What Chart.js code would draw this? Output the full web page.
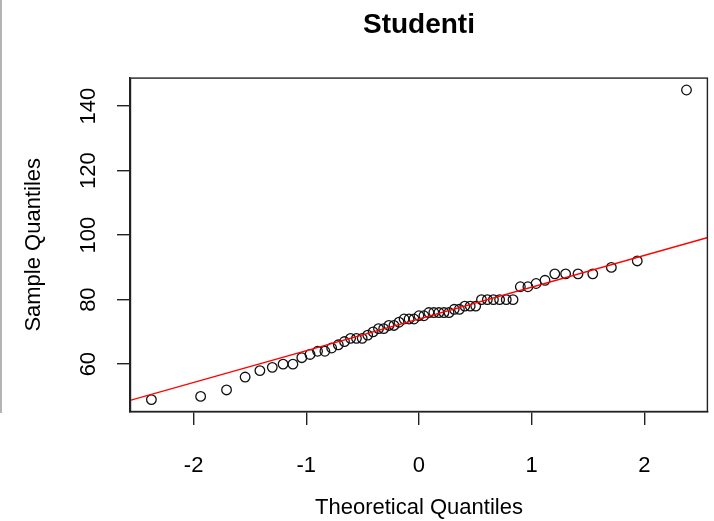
<!DOCTYPE html>
<html>
<head>
<meta charset="utf-8">
<title>Studenti</title>
<script src="https://cdn.jsdelivr.net/npm/chart.js@4"></script>
<style>
  html, body { margin: 0; padding: 0; background: #fff; }
  #wrap { position: relative; width: 714px; height: 521px; }
  #edge { position: absolute; left: 0; top: 0; width: 2px; height: 413px; background: #b4b4b4; }
</style>
</head>
<body>
<div id="wrap">
  <canvas id="qqChart" width="714" height="521"></canvas>
  <div id="edge"></div>
</div>
<script>
// theoretical quantiles (x) and sorted sample values (y)
const theoretical = [
  -2.375, -1.938, -1.708, -1.543, -1.412, -1.302, -1.206, -1.119, -1.040, -0.967,
  -0.900, -0.835, -0.775, -0.716, -0.661, -0.607, -0.555, -0.504, -0.455, -0.407,
  -0.359, -0.313, -0.267, -0.222, -0.177, -0.132, -0.088, -0.044, 0, 0.044,
  0.088, 0.132, 0.177, 0.222, 0.267, 0.313, 0.359, 0.407, 0.455, 0.504,
  0.555, 0.607, 0.661, 0.716, 0.775, 0.835, 0.900, 0.967, 1.040, 1.119,
  1.206, 1.302, 1.412, 1.543, 1.708, 1.938, 2.375
];
const sample = [
  49, 50, 52, 56, 58, 59, 60, 60, 62, 63,
  64, 64, 65, 66, 67, 68, 68, 68, 69, 70,
  71, 71, 72, 72, 73, 74, 74, 74, 75, 75,
  76, 76, 76, 76, 76, 77, 77, 78, 78, 78,
  80, 80, 80, 80, 80, 80, 84, 84, 85, 86,
  88, 88, 88, 88, 90, 92, 145
];
const xTicks = [-2, -1, 0, 1, 2];
const yTicks = [60, 80, 100, 120, 140];
const xRange = [-2.565, 2.565];
const yRange = [45.16, 148.84];
const lineIntercept = 74.0;
const lineSlope = 9.85;

const FONT = '"Liberation Sans", Arial, sans-serif';

const points = theoretical.map((x, i) => ({ x, y: sample[i] }));
const qqLine = xRange.map(x => ({ x, y: lineIntercept + lineSlope * x }));

// R draws a full box round the plot region
const boxPlugin = {
  id: 'box',
  afterDraw(chart) {
    const { ctx, chartArea: a } = chart;
    ctx.save();
    ctx.strokeStyle = '#222';
    ctx.lineWidth = 1.4;
    ctx.strokeRect(a.left + 0.5, a.top + 0.5, a.right - a.left - 1, a.bottom - a.top - 1);
    ctx.restore();
  }
};

new Chart(document.getElementById('qqChart'), {
  type: 'scatter',
  data: {
    datasets: [
      {
        type: 'line',
        data: qqLine,
        borderColor: '#ff0000',
        borderWidth: 1.3,
        pointRadius: 0,
        order: 0
      },
      {
        data: points,
        pointStyle: 'circle',
        pointRadius: 4.8,
        pointBorderWidth: 1.3,
        pointBorderColor: '#111',
        pointBackgroundColor: 'rgba(0,0,0,0)',
        order: 1
      }
    ]
  },
  options: {
    responsive: false,
    animation: false,
    layout: { padding: { left: 0, right: 2, top: 0, bottom: 0 } },
    plugins: {
      legend: { display: false },
      tooltip: { enabled: false },
      title: {
        display: true,
        fullSize: false,
        text: 'Studenti',
        color: '#000',
        font: { family: FONT, size: 28, weight: 'bold' },
        padding: { top: 8, bottom: 36 }
      }
    },
    scales: {
      x: {
        type: 'linear',
        min: xRange[0],
        max: xRange[1],
        afterBuildTicks: s => { s.ticks = xTicks.map(v => ({ value: v })); },
        afterFit: s => { s.height = 109; },
        grid: { drawOnChartArea: false, drawTicks: true, tickLength: 13, color: '#222', lineWidth: 1.4 },
        border: { display: true, color: '#222', width: 1.4 },
        ticks: { color: '#000', font: { family: FONT, size: 22 }, padding: 28, maxRotation: 0, autoSkip: false },
        title: {
          display: true,
          text: 'Theoretical Quantiles',
          color: '#000',
          font: { family: FONT, size: 22 },
          padding: { top: 0, bottom: 0 }
        }
      },
      y: {
        type: 'linear',
        min: yRange[0],
        max: yRange[1],
        afterBuildTicks: s => { s.ticks = yTicks.map(v => ({ value: v })); },
        afterFit: s => { s.width = 130; },
        grid: { drawOnChartArea: false, drawTicks: true, tickLength: 13, color: '#222', lineWidth: 1.4 },
        border: { display: true, color: '#222', width: 1.4 },
        ticks: { color: '#000', font: { family: FONT, size: 22 }, padding: 10, minRotation: 90, maxRotation: 90, crossAlign: 'center', autoSkip: false },
        title: {
          display: true,
          text: 'Sample Quantiles',
          color: '#000',
          font: { family: FONT, size: 22 },
          padding: { top: 21, bottom: 0 }
        }
      }
    }
  },
  plugins: [boxPlugin]
});
</script>
</body>
</html>
